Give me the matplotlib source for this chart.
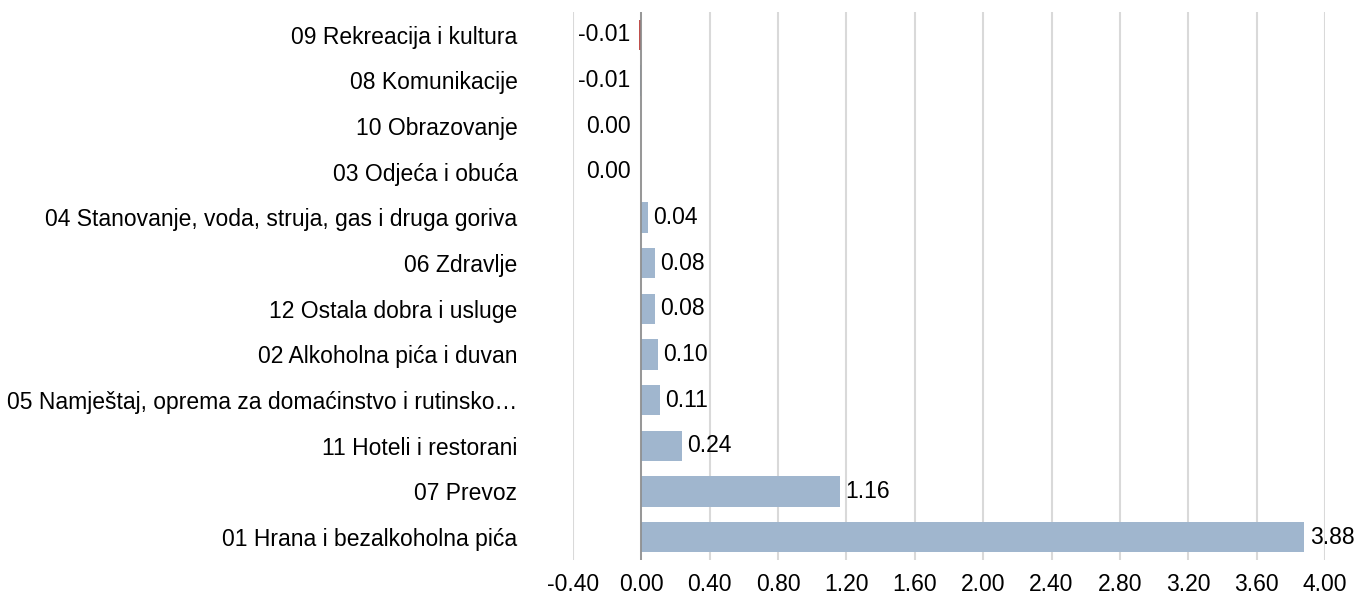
import matplotlib.pyplot as plt
import numpy as np

plt.rcParams['font.family'] = ['Liberation Sans', 'DejaVu Sans']

# ==== data ====
categories = [
    "09 Rekreacija i kultura",
    "08 Komunikacije",
    "10 Obrazovanje",
    "03 Odjeća i obuća",
    "04 Stanovanje, voda, struja, gas i druga goriva",
    "06 Zdravlje",
    "12 Ostala dobra i usluge",
    "02 Alkoholna pića i duvan",
    "05 Namještaj, oprema za domaćinstvo i rutinsko…",
    "11 Hoteli i restorani",
    "07 Prevoz",
    "01 Hrana i bezalkoholna pića",
]
values = [-0.012, -0.006, 0.0, 0.0, 0.04, 0.08, 0.08, 0.10, 0.11, 0.24, 1.16, 3.88]
labels = ["-0.01", "-0.01", "0.00", "0.00", "0.04", "0.08", "0.08", "0.10", "0.11", "0.24", "1.16", "3.88"]
colors = ["#C0504D"] + ["#A0B6CE"] * 11
xticks = np.arange(-0.4, 4.01, 0.4)

fs = 16.5
fig = plt.figure(figsize=(13.65, 5.96), dpi=100)
ax = fig.add_axes([0.4198, 0.0604, 0.5509, 0.9196])

y = np.arange(len(categories))
ax.barh(y, values, height=0.66, color=colors, zorder=3)

for yi, v, lab in zip(y, values, labels):
    if v > 0:
        ax.text(v + 0.03, yi, lab, ha="left", va="center", fontsize=fs, zorder=4)
    else:
        ax.text(-0.065, yi, lab, ha="right", va="center", fontsize=fs, zorder=4)

ax.set_xlim(-0.4, 4.0)
ax.set_ylim(len(categories) - 0.5, -0.5)
ax.set_yticks(y)
ax.set_yticklabels(categories, fontsize=fs)
ax.set_xticks(xticks)
ax.set_xticklabels([f"{t:.2f}" for t in xticks], fontsize=fs)
ax.tick_params(axis="y", length=0, pad=40)
ax.tick_params(axis="x", length=0, pad=9)

ax.grid(axis="x", color="#D9D9D9", linewidth=1.5, zorder=0)
ax.axvline(0, color="#8C8C8C", linewidth=1.2, zorder=4)
for s in ax.spines.values():
    s.set_visible(False)

plt.savefig("out.png", dpi=100)
